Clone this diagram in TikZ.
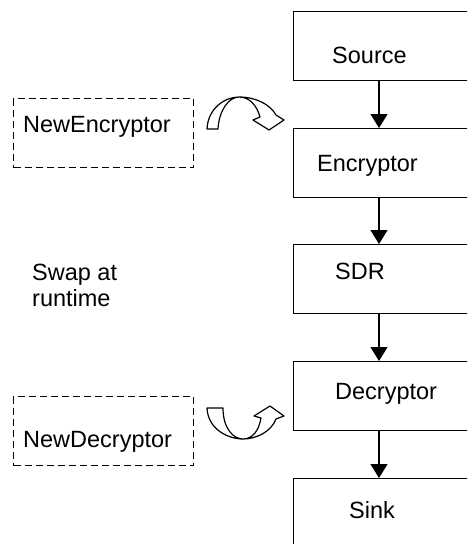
\documentclass[tikz,border=0pt]{standalone}
\usepackage{fontspec}
\setmainfont{Liberation Sans}
\usetikzlibrary{arrows.meta}
\begin{document}
\begin{tikzpicture}[x=1pt,y=-1pt,
  lbl/.style={inner sep=0pt, anchor=base west, font=\fontsize{23.5}{26}\selectfont},
  stagebox/.style={draw=black, line width=1.2pt, fill=white, rectangle, minimum width=190pt, minimum height=69pt, anchor=north west, inner sep=0pt},
  altbox/.style={draw=black, line width=1.2pt, dash pattern=on 7pt off 4pt, rectangle, minimum width=180pt, minimum height=69pt, anchor=north west, inner sep=0pt},
  flow/.style={draw=black, line width=1.2pt, -{Triangle[width=17pt,length=14pt]}},
  swaparrow/.style={draw=black, line width=1.2pt, fill=white, line join=round}
]
\useasboundingbox (0,0) rectangle (467,544);
\clip (0,0) rectangle (467,544);

% main chain boxes
\node[stagebox] (source) at (293,11) {};
\node[stagebox] (encryptor) at (293,128) {};
\node[stagebox] (sdr) at (293,244) {};
\node[stagebox] (decryptor) at (293,361) {};
\node[stagebox, minimum height=90pt] (sink) at (293,478) {};

\node[lbl] (tsource) at (332,63) {Source};
\node[lbl] (tencryptor) at (317,171) {Encryptor};
\node[lbl] (tsdr) at (335,279) {SDR};
\node[lbl] (tdecryptor) at (335,399) {Decryptor};
\node[lbl] (tsink) at (349,518) {Sink};

% connectors
\coordinate (ax) at (379,0);
\draw[flow] (source.south -| ax) -- (encryptor.north -| ax);
\draw[flow] (encryptor.south -| ax) -- (sdr.north -| ax);
\draw[flow] (sdr.south -| ax) -- (decryptor.north -| ax);
\draw[flow] (decryptor.south -| ax) -- (sink.north -| ax);

% replacement boxes
\node[altbox] (newenc) at (13,98) {};
\node[altbox] (newdec) at (13,396) {};
\node[lbl] (tnewenc) at (23,132) {NewEncryptor};
\node[lbl] (tnewdec) at (23,447) {NewDecryptor};

\node[lbl, align=left] (swap) at (32,306) {Swap at\\runtime};

% curved swap arrows
\draw[swaparrow] (207,129) .. controls (208,108) and (225,97) .. (239,97)
  .. controls (250,97) and (257,106) .. (260,117) -- (253,120) -- (269,130) -- (284,120) -- (276,115)
  .. controls (270,104) and (255,97) .. (239,97)
  .. controls (229,97) and (219,110) .. (218,129) -- cycle;

\draw[swaparrow] (207,408) .. controls (208,430) and (229,439) .. (243,439)
  .. controls (253,439) and (259,430) .. (261,418) -- (254,416) -- (270,406) -- (284,416) -- (276,419)
  .. controls (271,432) and (256,439) .. (243,439)
  .. controls (233,439) and (223,428) .. (223,408) -- cycle;
\end{tikzpicture}
\end{document}
